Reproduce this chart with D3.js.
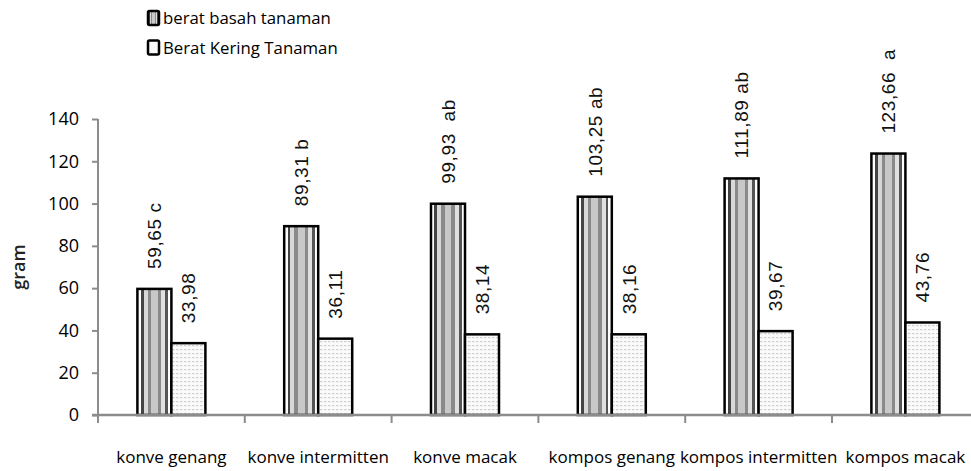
<!DOCTYPE html>
<html lang="id">
<head>
  <meta charset="UTF-8">
  <title>Berat tanaman</title>
  <style>
    body { margin: 0; background: #fff; }
  </style>
</head>
<body>
  <svg id="svg" width="971" height="471"></svg>

  <script src="https://d3js.org/d3.v7.min.js"></script>
  <script>
    const categories = ['konve genang', 'konve intermitten', 'konve macak', 'kompos genang', 'kompos intermitten', 'kompos macak']
    const basah = [59.65, 89.31, 99.93, 103.25, 111.89, 123.66]
    const kering = [33.98, 36.11, 38.14, 38.16, 39.67, 43.76]
    const basahLabels = ['59,65 c', '89,31 b', '99,93  ab', '103,25 ab', '111,89 ab', '123,66  a']
    const keringLabels = ['33,98', '36,11', '38,14', '38,16', '39,67', '43,76']
    const yTicks = [0, 20, 40, 60, 80, 100, 120, 140]
    const seriesNames = ['berat basah tanaman', 'Berat Kering Tanaman']

    const svg = d3.select('#svg')
    const defs = svg.append('defs')

    // vertical stripes for the fresh weight bars
    const grad = defs.append('linearGradient').attr('id', 'stripes')
      .attr('x1', 0).attr('x2', 1).attr('y1', 0).attr('y2', 0)
    const stops = [
      [0, '#fff'], [0.1, '#fff'], [0.1, '#444'], [0.18, '#444'], [0.18, '#d8d8d8'], [0.3, '#d8d8d8'],
      [0.3, '#8a8a8a'], [0.4, '#8a8a8a'], [0.4, '#c8c8c8'], [0.6, '#c8c8c8'], [0.6, '#8a8a8a'],
      [0.7, '#8a8a8a'], [0.7, '#e0e0e0'], [0.82, '#e0e0e0'], [0.82, '#555'], [0.9, '#555'], [0.9, '#fff'], [1, '#fff']
    ]
    stops.forEach(s => grad.append('stop').attr('offset', s[0]).attr('stop-color', s[1]))

    // light dotted grid for the dry weight bars
    const pat = defs.append('pattern').attr('id', 'dots')
      .attr('patternUnits', 'userSpaceOnUse').attr('width', 4).attr('height', 4)
    pat.append('rect').attr('width', 4).attr('height', 4).attr('fill', '#fbfbfb')
    pat.append('rect').attr('x', 0).attr('y', 1).attr('width', 2.5).attr('height', 1.2).attr('fill', '#cfcfcf')

    const x = d3.scaleBand()
      .domain(categories)
      .range([98, 98 + 6 * 146.8])
    const y = d3.scaleLinear()
      .domain([0, 140])
      .range([415, 119])
    const barW = 34

    // y axis
    const yAxis = svg.append('g')
      .attr('transform', 'translate(98,0)')
      .call(d3.axisLeft(y).tickValues(yTicks).tickSize(6).tickPadding(13))
    yAxis.select('.domain').remove()
    yAxis.append('line').attr('x1', 0).attr('x2', 0).attr('y1', y(140)).attr('y2', 423)
      .attr('stroke', '#8c8c8c').attr('stroke-width', 2)
    yAxis.selectAll('.tick line').attr('stroke', '#8c8c8c').attr('stroke-width', 2)
    yAxis.selectAll('.tick text')
      .style('font-family', '"Open Sans"').style('font-size', '18px').style('font-weight', 500).attr('fill', '#000')

    svg.append('text')
      .attr('transform', `translate(25,${(y(0) + y(140)) / 2}) rotate(-90)`)
      .attr('text-anchor', 'middle')
      .style('font-family', '"Open Sans"').style('font-size', '18px').style('font-weight', 600)
      .attr('fill', '#222')
      .text('gram')

    // bars
    const groups = svg.selectAll('g.cat')
      .data(categories)
      .enter()
      .append('g')
      .attr('class', 'cat')

    groups.append('rect')
      .attr('x', d => x(d) + x.bandwidth() / 2 - barW)
      .attr('y', (d, i) => y(basah[i]))
      .attr('width', barW)
      .attr('height', (d, i) => y(0) - y(basah[i]))
      .attr('fill', 'url(#stripes)')
      .attr('stroke', '#000').attr('stroke-width', 2.5)

    groups.append('rect')
      .attr('x', d => x(d) + x.bandwidth() / 2)
      .attr('y', (d, i) => y(kering[i]))
      .attr('width', barW)
      .attr('height', (d, i) => y(0) - y(kering[i]))
      .attr('fill', 'url(#dots)')
      .attr('stroke', '#000').attr('stroke-width', 2.5)

    // value labels, rotated
    groups.append('text')
      .attr('transform', (d, i) => `translate(${x(d) + x.bandwidth() / 2 - barW / 2},${y(basah[i]) - 20}) rotate(-90)`)
      .attr('dy', '0.36em')
      .style('font-family', '"Liberation Sans"').style('font-size', '19px').style('letter-spacing', '0.6px')
      .attr('fill', '#111')
      .style('white-space', 'pre')
      .text((d, i) => basahLabels[i])

    groups.append('text')
      .attr('transform', (d, i) => `translate(${x(d) + x.bandwidth() / 2 + barW / 2},${y(kering[i]) - 20}) rotate(-90)`)
      .attr('dy', '0.36em')
      .style('font-family', '"Liberation Sans"').style('font-size', '19px').style('letter-spacing', '0.6px')
      .attr('fill', '#111')
      .text((d, i) => keringLabels[i])

    // x axis
    svg.append('line')
      .attr('x1', 92).attr('x2', 971).attr('y1', y(0)).attr('y2', y(0))
      .attr('stroke', '#8c8c8c').attr('stroke-width', 2.5)
    svg.selectAll('line.xtick')
      .data(categories.slice(1))
      .enter()
      .append('line')
      .attr('class', 'xtick')
      .attr('x1', d => x(d)).attr('x2', d => x(d))
      .attr('y1', y(0)).attr('y2', y(0) + 8)
      .attr('stroke', '#8c8c8c').attr('stroke-width', 2)

    svg.selectAll('text.cat')
      .data(categories)
      .enter()
      .append('text')
      .attr('class', 'cat')
      .attr('x', d => x(d) + x.bandwidth() / 2)
      .attr('y', 463)
      .attr('text-anchor', 'middle')
      .style('font-family', '"Open Sans"').style('font-size', '17px').style('font-weight', 500)
      .attr('fill', '#000')
      .text(d => d)

    // legend
    const legend = svg.append('g').selectAll('g')
      .data(seriesNames)
      .enter()
      .append('g')
      .attr('transform', (d, i) => `translate(148,${11 + i * 29.5})`)
    legend.append('rect')
      .attr('width', 11).attr('height', 14).attr('rx', 1.5)
      .attr('fill', (d, i) => i === 0 ? 'url(#stripes)' : '#fafafa')
      .attr('stroke', '#000').attr('stroke-width', 2.5)
    legend.append('text')
      .attr('x', 15).attr('y', 13)
      .style('font-family', '"Open Sans"').style('font-size', '16.8px').style('font-weight', 500)
      .attr('fill', '#000')
      .text(d => d)
  </script>
</body>
</html>
